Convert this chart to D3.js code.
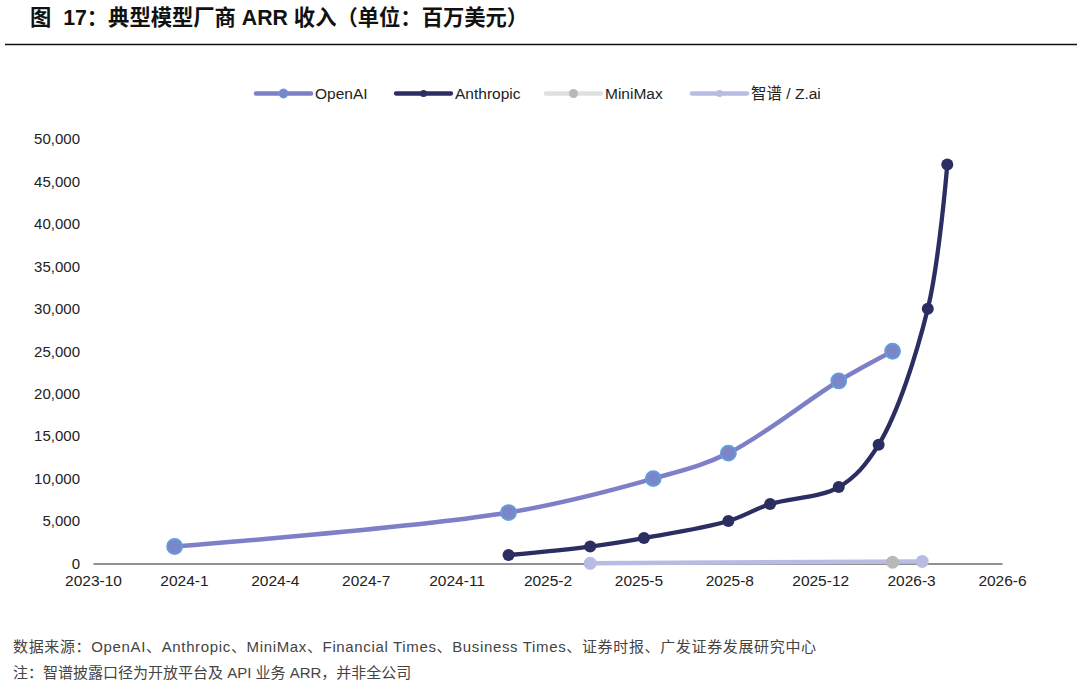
<!DOCTYPE html>
<meta charset="utf-8">
<script src="https://d3js.org/d3.v7.js"></script>
<style>
  body { margin: 0; background: #fff; }
  svg text { font-family: "Liberation Sans", "Noto Sans CJK SC", sans-serif; white-space: pre; }
</style>
<div id="chart"></div>
<script>

// tick dates on the x axis (an evenly spaced date axis)
var tickDates = ["2023-10-10", "2024-01-16", "2024-04-23", "2024-07-30", "2024-11-05",
  "2025-02-11", "2025-05-20", "2025-08-26", "2025-12-02", "2026-03-10", "2026-06-16"];
var yTicks = [0, 5000, 10000, 15000, 20000, 25000, 30000, 35000, 40000, 45000, 50000];

var openaiDates = ["2024-01-06", "2024-12-31", "2025-06-05", "2025-08-25", "2025-12-22", "2026-02-18"];
var openaiValues = [2000, 6000, 10000, 13000, 21500, 25000];

var anthropicDates = ["2024-12-31", "2025-03-29", "2025-05-26", "2025-08-25", "2025-10-09",
  "2025-12-22", "2026-02-03", "2026-03-28", "2026-04-18"];
var anthropicValues = [1000, 2000, 3000, 5000, 7000, 9000, 14000, 30000, 47000];

var minimaxDates = ["2026-02-18"];
var minimaxValues = [150];

var zhipuDates = ["2025-03-29", "2026-03-22"];
var zhipuValues = [20, 250];

var parse = d3.timeParse("%Y-%m-%d");
function pairs(dates, values) {
  return dates.map(function(d, i) { return {date: parse(d), value: values[i]}; });
}

var series = [
  {name: "OpenAI", data: pairs(openaiDates, openaiValues), line: "#7d80c6", fill: "#7b86c9", ring: "#5f9fdb", width: 4.5, r: 7.5},
  {name: "Anthropic", data: pairs(anthropicDates, anthropicValues), line: "#2c2d60", fill: "#2c2d60", ring: "#2c2d60", width: 4.3, r: 6},
  {name: "智谱 / Z.ai", data: pairs(zhipuDates, zhipuValues), line: "#b8bce3", fill: "#b8bce3", ring: "#b8bce3", width: 4.5, r: 6.5},
  {name: "MiniMax", data: pairs(minimaxDates, minimaxValues), line: "#e0e0e0", fill: "#b8b8b8", ring: "#b8b8b8", width: 4.5, r: 6.5}
];
var legendOrder = ["OpenAI", "Anthropic", "MiniMax", "智谱 / Z.ai"];

var W = 1080, H = 692;
var svg = d3.select("#chart").append("svg")
  .attr("width", W).attr("height", H);

// title + rule
svg.append("text")
  .attr("x", 30).attr("y", 25)
  .attr("font-size", 21.3).attr("font-weight", "bold").attr("fill", "#111")
  .text("图  17：典型模型厂商 ARR 收入（单位：百万美元）");
svg.append("line")
  .attr("x1", 5).attr("x2", 1077).attr("y1", 44.5).attr("y2", 44.5)
  .attr("stroke", "#111").attr("stroke-width", 1.5);

var x = d3.scaleTime()
  .domain([parse(tickDates[0]), parse(tickDates[tickDates.length - 1])])
  .range([93, 1002]);
var y = d3.scaleLinear()
  .domain([0, 50000])
  .range([563.5, 139]);

// y axis labels (no line)
var yAxis = svg.append("g")
  .attr("transform", "translate(80,0)")
  .call(d3.axisLeft(y).tickValues(yTicks).tickSize(0).tickPadding(0).tickFormat(d3.format(",")));
yAxis.select(".domain").remove();
yAxis.selectAll("text").attr("font-size", 15).attr("fill", "#222")
  .style("font-family", "'Liberation Sans', sans-serif");

// x axis
var fmt = d3.timeFormat("%Y-%-m");
var xAxis = svg.append("g")
  .attr("transform", "translate(0," + y(0) + ")")
  .call(d3.axisBottom(x).tickValues(tickDates.map(parse)).tickSize(0).tickPadding(11).tickFormat(fmt));
xAxis.select(".domain").attr("stroke", "#222").attr("stroke-width", 1.2);
xAxis.selectAll("text").attr("font-size", 15.5).attr("fill", "#222")
  .style("font-family", "'Liberation Sans', sans-serif");

var line = d3.line()
  .x(function(d) { return x(d.date); })
  .y(function(d) { return y(d.value); })
  .curve(d3.curveCatmullRom.alpha(0.5));

series.forEach(function(s) {
  svg.append("path")
    .datum(s.data)
    .attr("d", line)
    .attr("fill", "none")
    .attr("stroke", s.line)
    .attr("stroke-width", s.width)
    .attr("stroke-linecap", "round");
  svg.selectAll(null)
    .data(s.data)
    .enter().append("circle")
    .attr("cx", function(d) { return x(d.date); })
    .attr("cy", function(d) { return y(d.value); })
    .attr("r", s.r)
    .attr("fill", s.fill)
    .attr("stroke", s.ring)
    .attr("stroke-width", s.name == "OpenAI" ? 1.8 : 0);
});

// legend
var legendX = [256, 396, 546, 692];
var legend = svg.append("g");
legendOrder.forEach(function(name, i) {
  var s = series.filter(function(t) { return t.name == name; })[0];
  var g = legend.append("g").attr("transform", "translate(" + legendX[i] + ",93.5)");
  g.append("line").attr("x1", 0).attr("x2", 55).attr("y1", 0).attr("y2", 0)
    .attr("stroke", s.line).attr("stroke-width", s.width).attr("stroke-linecap", "round");
  g.append("circle").attr("cx", 27.5).attr("cy", 0)
    .attr("r", name == "OpenAI" ? 4.5 : (name == "MiniMax" ? 4.5 : 3.5))
    .attr("fill", s.fill).attr("stroke", s.ring).attr("stroke-width", name == "OpenAI" ? 1 : 0);
  g.append("text").attr("x", 59).attr("y", 5.5)
    .attr("font-size", 15.5).attr("fill", "#222").text(name);
});

// footer
svg.append("text")
  .attr("x", 13).attr("y", 652)
  .attr("font-size", 15).attr("letter-spacing", 0.65).attr("fill", "#444")
  .text("数据来源：OpenAI、Anthropic、MiniMax、Financial Times、Business Times、证券时报、广发证券发展研究中心");
svg.append("text")
  .attr("x", 13).attr("y", 678)
  .attr("font-size", 15).attr("fill", "#444")
  .text("注：智谱披露口径为开放平台及 API 业务 ARR，并非全公司");

</script>
